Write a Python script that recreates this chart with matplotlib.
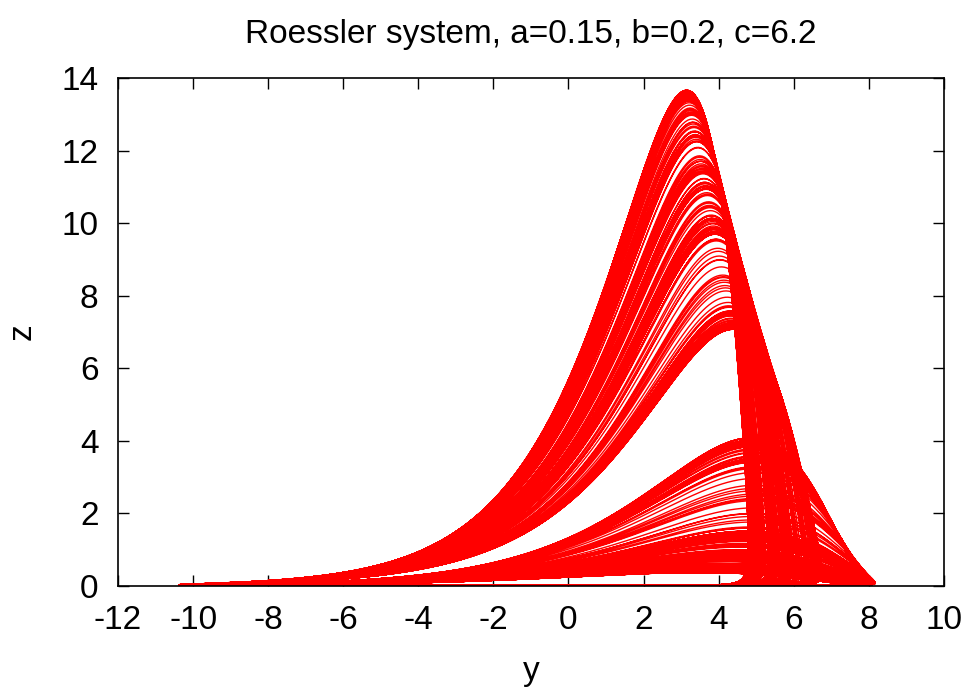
import numpy as np
import matplotlib
matplotlib.use("Agg")
import matplotlib.pyplot as plt

# Roessler system parameters
a = 0.15
b = 0.2
c = 6.2

# integration settings
x0 = [0.0, 0.0, 0.0]
dt = 0.01
t_skip = 100.0
t_end = 2600.0

x_ticks = [-12, -10, -8, -6, -4, -2, 0, 2, 4, 6, 8, 10]
y_ticks = [0, 2, 4, 6, 8, 10, 12, 14]


def deriv(s):
    x, y, z = s
    return np.array([-y - z, x + a * y, b + z * (x - c)])


def integrate(s0, h, n):
    out = np.empty((n + 1, 3))
    s = np.array(s0, dtype=float)
    out[0] = s
    for i in range(n):
        k1 = deriv(s)
        k2 = deriv(s + 0.5 * h * k1)
        k3 = deriv(s + 0.5 * h * k2)
        k4 = deriv(s + h * k3)
        s = s + h / 6.0 * (k1 + 2 * k2 + 2 * k3 + k4)
        out[i + 1] = s
    return out


traj = integrate(x0, dt, int(t_end / dt))
traj = traj[int(t_skip / dt):]

plt.rcParams["font.family"] = ["Liberation Sans", "DejaVu Sans"]
plt.rcParams["axes.unicode_minus"] = False
fig = plt.figure(figsize=(9.69, 6.93), dpi=100)
ax = fig.add_axes([0.1218, 0.1544, 0.974 - 0.1218, 0.8874 - 0.1544])

ax.plot(traj[:, 1], traj[:, 2], color="#ff0000", lw=1.0)

ax.set_xlim(-12, 10)
ax.set_ylim(0, 14)
ax.set_xticks(x_ticks)
ax.set_yticks(y_ticks)
ax.tick_params(direction="in", length=8, width=1, top=True, right=True,
               labelsize=24, pad=14)
for sp in ax.spines.values():
    sp.set_linewidth(1.2)

ax.set_title("Roessler system, a=0.15, b=0.2, c=6.2", fontsize=24, pad=25)
ax.set_xlabel("y", fontsize=24, labelpad=14)
ax.set_ylabel("z", fontsize=24, labelpad=17)

fig.savefig("out.png", dpi=100)
